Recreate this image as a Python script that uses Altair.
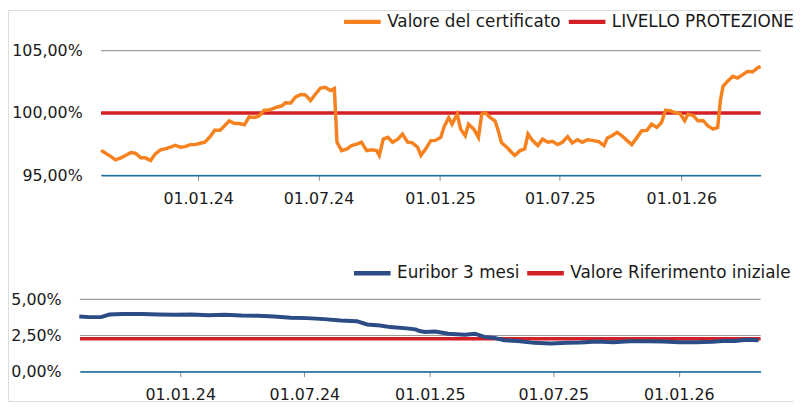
import altair as alt
import pandas as pd

BASE = pd.Timestamp("2024-01-01")

# ---- Top panel: certificate value (days relative to 01.01.24, value in %) ----
cert_days = [-147, -140, -132, -125, -117, -110, -102, -95, -87, -80,
             -72, -65, -57, -50, -42, -35, -27, -20, -12, -5,
             3, 10, 18, 25, 33, 40, 47, 55, 62, 70,
             77, 85, 92, 100, 105, 112, 120, 127, 132, 140,
             147, 155, 162, 170, 177, 185, 192, 200, 206, 210,
             217, 225, 232, 240, 247, 255, 262, 270, 274, 280,
             287, 294, 302, 309, 317, 324, 332, 337, 344, 352,
             359, 367, 372, 379, 384, 392, 397, 404, 409, 417,
             424, 429, 434, 442, 449, 454, 459, 467, 474, 479,
             487, 494, 499, 506, 514, 521, 529, 536, 544, 551,
             559, 566, 574, 581, 589, 596, 606, 614, 619, 626,
             634, 641, 649, 656, 664, 671, 679, 686, 694, 701,
             707, 714, 721, 729, 736, 741, 749, 756, 764, 771,
             779, 786, 790, 794, 801, 809, 816, 824, 831, 839,
             846, 851]
cert_vals = [97.00, 96.77, 96.50, 96.24, 96.40, 96.59, 96.83, 96.77, 96.40, 96.40,
             96.19, 96.72, 97.04, 97.12, 97.25, 97.41, 97.25, 97.30, 97.46, 97.46,
             97.57, 97.65, 98.10, 98.62, 98.62, 98.97, 99.37, 99.15, 99.15, 99.05,
             99.68, 99.63, 99.76, 100.21, 100.21, 100.32, 100.48, 100.58, 100.82, 100.80,
             101.27, 101.48, 101.45, 101.00, 101.48, 102.00, 102.06, 101.80, 101.96, 97.65,
             96.98, 97.12, 97.38, 97.50, 97.65, 96.98, 97.04, 96.98, 96.59, 97.90,
             98.04, 97.65, 97.90, 98.31, 97.65, 97.60, 97.25, 96.59, 97.10, 97.78,
             97.80, 98.04, 98.89, 99.63, 99.10, 99.90, 98.70, 98.17, 99.10, 98.70,
             98.04, 99.90, 100.03, 99.63, 99.37, 98.57, 97.60, 97.25, 96.85, 96.59,
             96.98, 97.12, 98.31, 97.78, 97.38, 97.90, 97.65, 97.72, 97.46, 97.65,
             98.10, 97.60, 97.85, 97.65, 97.85, 97.80, 97.70, 97.38, 97.99, 98.17,
             98.44, 98.17, 97.78, 97.46, 98.04, 98.57, 98.60, 99.10, 98.84, 99.23,
             100.21, 100.18, 100.03, 99.95, 99.37, 99.90, 99.79, 99.37, 99.40, 98.97,
             98.70, 98.84, 100.95, 102.14, 102.54, 102.94, 102.80, 103.07, 103.33, 103.30,
             103.60, 103.73]
protezione_level = 100.0

# ---- Bottom panel: Euribor 3 months ----
eur_days = [-148, -133, -116, -104, -85, -56, -32, -7, 17, 41,
            65, 90, 114, 138, 162, 186, 211, 235, 259, 274,
            293, 308, 332, 345, 351, 359, 374, 393, 417, 432,
            446, 461, 475, 495, 519, 543, 567, 587, 611, 635,
            659, 684, 708, 732, 756, 780, 800, 814, 829, 848]
eur_vals = [3.81, 3.77, 3.77, 3.95, 3.99, 3.99, 3.95, 3.93, 3.95, 3.90,
            3.93, 3.88, 3.86, 3.81, 3.72, 3.70, 3.63, 3.54, 3.49, 3.26,
            3.19, 3.08, 2.99, 2.92, 2.81, 2.74, 2.78, 2.62, 2.55, 2.62,
            2.40, 2.33, 2.17, 2.12, 1.99, 1.94, 1.99, 2.01, 2.08, 2.03,
            2.10, 2.10, 2.08, 2.03, 2.03, 2.06, 2.14, 2.12, 2.21, 2.17]
riferimento_iniziale = 2.28

range_start = "2023-08-07"
range_end = "2026-05-01"
tick_dates = [(2024, 1), (2024, 7), (2025, 1), (2025, 7), (2026, 1)]
top_ticks = [95, 100, 105]
bottom_ticks = [0, 2.5, 5]

top_names = ["Valore del certificato", "LIVELLO PROTEZIONE"]
bottom_names = ["Euribor 3 mesi", "Valore Riferimento iniziale"]

ORANGE = "#F5821F"
RED = "#D31F26"
NAVY = "#2B4C84"
AXIS_BLUE = "#1B6FA3"
GRID = "#9a9a9a"
TEXT = "#1a1a1a"
FONT = "DejaVu Sans"

# canvas layout (whole chart = plot area, panels placed through scale ranges)
W, H = 794, 395
TOP_X = [94, 760.3]
TOP_Y = [167, 41]
BOT_X = [72.7, 760.3]
BOT_Y = [365.3, 292.3]


def to_dates(days):
    return [(BASE + pd.Timedelta(days=int(d))).strftime("%Y-%m-%d") for d in days]


cert_df = pd.DataFrame({"date": to_dates(cert_days), "value": cert_vals,
                        "serie": top_names[0]})
prot_df = pd.DataFrame({"date": [range_start, range_end],
                        "value": [protezione_level] * 2, "serie": top_names[1]})
eur_df = pd.DataFrame({"date": to_dates(eur_days), "value": eur_vals,
                       "serie": bottom_names[0]})
rif_df = pd.DataFrame({"date": [range_start, range_end],
                       "value": [riferimento_iniziale] * 2, "serie": bottom_names[1]})
top_grid = pd.DataFrame({"value": top_ticks, "start": range_start, "end": range_end})
bot_grid = pd.DataFrame({"value": bottom_ticks, "start": range_start, "end": range_end})


def dt(s):
    y, m, d = (int(p) for p in s.split("-"))
    return alt.DateTime(year=y, month=m, date=d, utc=True)


label_expr = "replace(format(datum.value, '.2f'), '.', ',') + '%'"


def x_axis(offset):
    return alt.Axis(
        orient="bottom", offset=offset,
        values=[alt.DateTime(year=y, month=m, date=1, utc=True) for y, m in tick_dates],
        format="%d.%m.%y", labelFont=FONT, labelFontSize=16, labelColor=TEXT,
        domainColor=AXIS_BLUE, domainWidth=1.5, tickColor="#8a8a8a", tickSize=5,
        tickWidth=1, labelPadding=10, grid=False, title=None, zindex=1)


def y_axis(vals, offset):
    return alt.Axis(orient="left", offset=offset, values=vals, labelExpr=label_expr,
                    domain=False, ticks=False, grid=False, labelFont=FONT,
                    labelFontSize=16, labelColor=TEXT, labelPadding=19, title=None)


def legend(lx, ly):
    return alt.Legend(orient="none", legendX=lx, legendY=ly, direction="horizontal",
                      title=None, symbolType="stroke", symbolSize=1369,
                      symbolStrokeWidth=4.5, labelFont=FONT, labelFontSize=17,
                      labelColor=TEXT, labelOffset=4, columnPadding=-2, padding=0,
                      labelLimit=400)


def panel(line_df, ref_df, grid_df, names, colors, domain, ticks,
          xr, yr, lx, ly, lw):
    xs = alt.Scale(type="utc", domain=[dt(range_start), dt(range_end)], range=xr)
    ys = alt.Scale(domain=domain, range=yr, nice=False, zero=False)
    xa = x_axis(yr[0] - H)
    ya = y_axis(ticks, -xr[0])
    color = alt.Color("serie:N", scale=alt.Scale(domain=names, range=colors),
                      legend=legend(lx, ly))
    grid = alt.Chart(grid_df).mark_rule(color=GRID, strokeWidth=1.2).encode(
        x=alt.X("start:T", scale=xs, axis=xa),
        x2="end:T",
        y=alt.Y("value:Q", scale=ys, axis=ya))
    x = alt.X("date:T", scale=xs, axis=xa)
    y = alt.Y("value:Q", scale=ys, axis=ya)
    ref = alt.Chart(ref_df).mark_line(strokeWidth=3.5).encode(x=x, y=y, color=color)
    line = alt.Chart(line_df).mark_line(strokeWidth=lw).encode(x=x, y=y, color=color)
    return alt.layer(grid, ref, line)


top = panel(cert_df, prot_df, top_grid, top_names, [ORANGE, RED], [95, 105],
            top_ticks, TOP_X, TOP_Y, 337, -9, 3.5)
bottom = panel(eur_df, rif_df, bot_grid, bottom_names, [NAVY, RED], [0, 5],
               bottom_ticks, BOT_X, BOT_Y, 347, 245, 4)

chart = alt.layer(top, bottom).resolve_scale(
    x="independent", y="independent", color="independent"
).properties(
    width=W, height=H, autosize=alt.AutoSizeParams(type="none"), padding=0
).configure_view(stroke=None).configure(font=FONT)

chart.save("out.html", embed_options={"renderer": "svg", "actions": False})
